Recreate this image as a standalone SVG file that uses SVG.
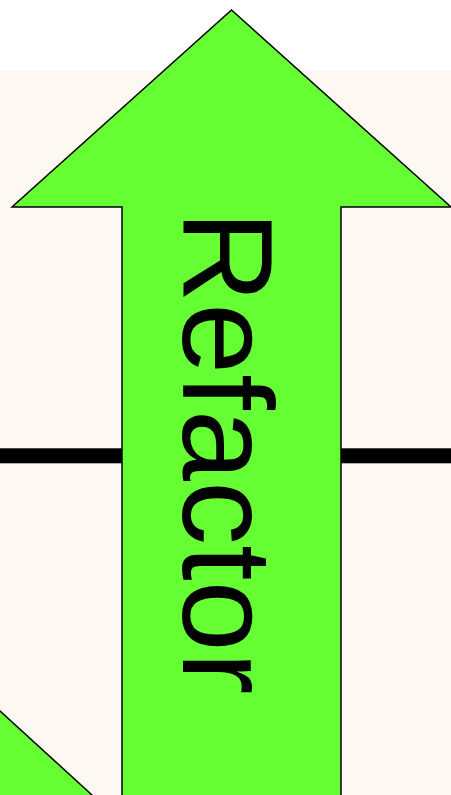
<svg xmlns="http://www.w3.org/2000/svg" width="451" height="795" viewBox="0 0 451 795">
<style>
.green{fill:#66ff33;stroke:#000;stroke-width:1.5;stroke-linejoin:miter}
.lbl{font-family:"Liberation Sans",Arial,sans-serif;font-size:128px;fill:#000}
</style>
<rect x="0" y="0" width="451" height="795" fill="#ffffff"/>
<rect x="0" y="71" width="451" height="724" fill="#fdf8f2"/>
<g id="connectors">
<rect x="0" y="448.3" width="451" height="15" fill="#000"/>
</g>
<g id="corner">
<polygon class="green" points="-20,692.7 92,795 92,820 -20,820"/>
</g>
<g id="refactor">
<polygon class="green" points="231.5,10 451,207 341,207 341,820 122,820 122,207 12,207"/>
<text class="lbl" transform="translate(183,210.5) rotate(90)">Refactor</text>
</g>
</svg>
